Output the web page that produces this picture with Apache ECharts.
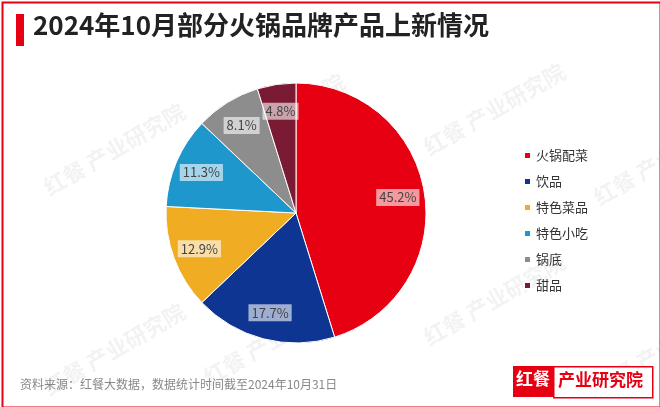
<!DOCTYPE html>
<html><head><meta charset="utf-8">
<script src="https://cdn.jsdelivr.net/npm/echarts@6/dist/echarts.min.js"></script>
<style>html,body{margin:0;padding:0;background:#fff}#c{width:660px;height:407px}</style>
</head><body><div id="c"></div>
<script>
const categories = ['火锅配菜','饮品','特色菜品','特色小吃','锅底','甜品'];
const values = [45.2, 17.7, 12.9, 11.3, 8.1, 4.8];
const colors = ['#e60012','#0d3591','#f0ad23','#1e97cc','#8d8d8d','#7a1a33'];
const title = '2024年10月部分火锅品牌产品上新情况';
const source = '资料来源：红餐大数据，数据统计时间截至2024年10月31日';

const chart = echarts.init(document.getElementById('c'));
const font = '"Noto Sans CJK SC", "Noto Sans", sans-serif';
const wm = [];
[[40,100],[200,70],[590,110],[40,300],[200,290],[590,300],[420,60],[420,250]].forEach(p=>{
  wm.push({type:'text',left:p[0],top:p[1],rotation:Math.PI/6,silent:true,
    style:{text:'红餐 产业研究院',fill:'rgba(0,0,0,0.05)',font:'bold 22px '+font}});
});
const pieData = categories.map((c,i)=>({name:c,value:values[i]}));
chart.setOption({
  color: colors,
  textStyle:{fontFamily:font},
  graphic: [
    {type:'rect',left:0,top:0,shape:{width:658,height:405},style:{fill:'none',stroke:'#e60012',lineWidth:2}},
    {type:'rect',left:16,top:14,shape:{width:8,height:32},style:{fill:'#e60012'}},
    {type:'text',left:33,top:12,style:{text:title,fill:'#222',font:'bold 26px '+font}},
    ...wm,
    {type:'text',left:20,top:378,style:{text:source,fill:'#888',font:'12px '+font}},
    {type:'rect',left:513,top:366,shape:{width:40,height:31},style:{fill:'#e60012'}},
    {type:'rect',left:553,top:366,shape:{width:99,height:31},style:{fill:'#fff',stroke:'#e60012',lineWidth:1.5}},
    {type:'text',left:516,top:370,style:{text:'红餐',fill:'#fff',font:'bold 17px '+font}},
    {type:'text',left:558,top:371,style:{text:'产业研究院',fill:'#e60012',font:'bold 17px '+font}}
  ],
  legend:{orient:'vertical',left:518,top:144,itemWidth:7,itemHeight:7,itemGap:13,icon:'rect',
    textStyle:{fontSize:13,color:'#333'},data:categories},
  series:[{type:'pie',center:[296,213],radius:130,startAngle:90,clockwise:true,
    itemStyle:{borderColor:'#fff',borderWidth:1},
    label:{show:false},labelLine:{show:false},
    data:pieData},
    {type:'pie',center:[296,213],radius:[0,200],startAngle:90,clockwise:true,silent:true,z:3,
    minShowLabelAngle:0,avoidLabelOverlap:false,
    itemStyle:{color:'rgba(0,0,0,0)',borderWidth:0},
    label:{show:true,position:'inside',formatter:p=>p.value.toFixed(1)+'%',color:'#444',fontSize:13,
      backgroundColor:'rgba(255,255,255,0.6)',padding:[2,3]},
    labelLayout:{hideOverlap:false},labelLine:{show:false},
    data:pieData}]
});
</script></body></html>
